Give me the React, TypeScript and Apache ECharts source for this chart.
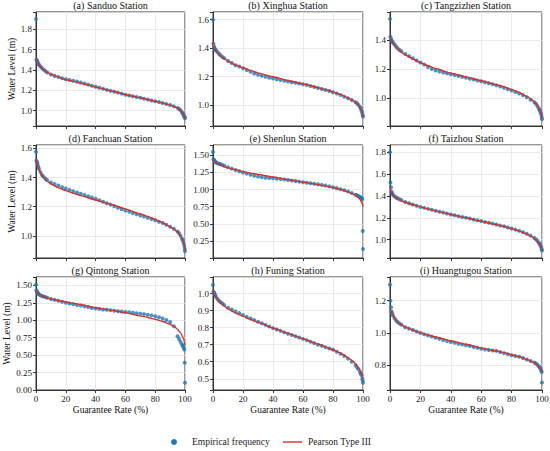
import React, { useEffect, useRef } from "react";
import * as echarts from "echarts";

// Guarantee rate (%) of the plotted empirical points (shared by all stations)
const empRate = [0, 0.3, 0.7, 1, 1.5, 2, 3, 4, 5, 6.25, 7.5, 10, 12.5, 15, 17.5, 20, 22.5, 25, 27.5, 30, 32.5, 35, 37.5, 40, 42.5, 45, 47.5, 50, 52.5, 55, 57.5, 60, 62.5, 65, 67.5, 70, 72.5, 75, 77.5, 80, 82.5, 85, 87.5, 90, 92.5, 95, 96, 97, 98, 98.5, 99, 99.5, 99.8, 100];
// Guarantee rate (%) of the Pearson Type III curve points
const fitRate = [0, 0.5, 1, 2, 3, 5, 7.5, 10, 15, 20, 25, 30, 40, 50, 60, 70, 75, 80, 85, 90, 93, 95, 97, 98, 99, 99.5, 100];

const sanduoEmp = [1.90, 1.50, 1.49, 1.48, 1.465, 1.45, 1.435, 1.42, 1.405, 1.39, 1.375, 1.355, 1.342, 1.332, 1.32, 1.31, 1.302, 1.295, 1.287, 1.278, 1.268, 1.258, 1.245, 1.235, 1.225, 1.215, 1.205, 1.195, 1.187, 1.178, 1.168, 1.158, 1.15, 1.142, 1.135, 1.127, 1.118, 1.11, 1.10, 1.093, 1.085, 1.076, 1.067, 1.057, 1.045, 1.028, 1.018, 1.005, 0.985, 0.972, 0.958, 0.945, 0.935, 0.925];
const xinghuaEmp = [1.60, 1.43, 1.41, 1.40, 1.39, 1.383, 1.372, 1.36, 1.35, 1.338, 1.328, 1.31, 1.295, 1.28, 1.27, 1.258, 1.245, 1.233, 1.222, 1.212, 1.205, 1.198, 1.192, 1.186, 1.18, 1.175, 1.17, 1.165, 1.16, 1.156, 1.151, 1.146, 1.14, 1.133, 1.127, 1.12, 1.113, 1.106, 1.098, 1.09, 1.08, 1.07, 1.058, 1.047, 1.035, 1.02, 1.012, 1.0, 0.985, 0.975, 0.96, 0.945, 0.93, 0.918];
const tangzizhenEmp = [1.543, 1.42, 1.405, 1.395, 1.387, 1.38, 1.367, 1.354, 1.342, 1.33, 1.322, 1.303, 1.288, 1.273, 1.258, 1.245, 1.23, 1.214, 1.20, 1.19, 1.183, 1.176, 1.17, 1.164, 1.158, 1.152, 1.146, 1.14, 1.134, 1.128, 1.122, 1.116, 1.109, 1.102, 1.095, 1.088, 1.08, 1.071, 1.062, 1.053, 1.043, 1.032, 1.02, 1.007, 0.99, 0.972, 0.962, 0.945, 0.928, 0.917, 0.903, 0.888, 0.872, 0.857];
const fanchuanEmp = [1.577, 1.515, 1.505, 1.497, 1.478, 1.46, 1.437, 1.417, 1.405, 1.393, 1.382, 1.366, 1.355, 1.345, 1.334, 1.324, 1.315, 1.306, 1.297, 1.288, 1.28, 1.272, 1.263, 1.254, 1.244, 1.234, 1.224, 1.214, 1.203, 1.193, 1.183, 1.174, 1.165, 1.156, 1.148, 1.14, 1.132, 1.124, 1.116, 1.107, 1.097, 1.088, 1.076, 1.062, 1.048, 1.03, 1.018, 1.0, 0.98, 0.968, 0.95, 0.93, 0.912, 0.895];
const shenlunEmp = [1.548, 1.44, 1.43, 1.42, 1.405, 1.395, 1.385, 1.375, 1.368, 1.36, 1.348, 1.325, 1.305, 1.285, 1.266, 1.25, 1.232, 1.215, 1.20, 1.188, 1.18, 1.173, 1.168, 1.163, 1.158, 1.152, 1.146, 1.14, 1.132, 1.124, 1.115, 1.106, 1.10, 1.092, 1.085, 1.077, 1.068, 1.058, 1.046, 1.034, 1.02, 1.005, 0.99, 0.972, 0.95, 0.925, 0.915, 0.905, 0.89, 0.882, 0.874, 0.86, 0.394, 0.13];
const taizhouEmp = [1.80, 1.523, 1.48, 1.44, 1.425, 1.41, 1.397, 1.386, 1.378, 1.37, 1.362, 1.345, 1.333, 1.322, 1.31, 1.30, 1.291, 1.282, 1.273, 1.264, 1.256, 1.248, 1.239, 1.231, 1.223, 1.215, 1.208, 1.20, 1.193, 1.185, 1.178, 1.17, 1.162, 1.155, 1.147, 1.139, 1.13, 1.122, 1.112, 1.103, 1.092, 1.082, 1.069, 1.054, 1.037, 1.015, 1.003, 0.988, 0.97, 0.96, 0.945, 0.93, 0.912, 0.90];
const qintongEmp = [1.51, 1.43, 1.41, 1.395, 1.382, 1.37, 1.358, 1.348, 1.34, 1.333, 1.324, 1.305, 1.292, 1.28, 1.266, 1.252, 1.241, 1.23, 1.22, 1.21, 1.199, 1.188, 1.177, 1.167, 1.161, 1.155, 1.149, 1.143, 1.137, 1.131, 1.126, 1.12, 1.114, 1.107, 1.101, 1.095, 1.088, 1.08, 1.07, 1.057, 1.042, 1.024, 1.004, 0.976, 0.915, 0.77, 0.73, 0.69, 0.657, 0.635, 0.61, 0.58, 0.39, 0.105];
const funingEmp = [1.05, 1.012, 1.005, 1.0, 0.99, 0.98, 0.968, 0.957, 0.95, 0.942, 0.932, 0.917, 0.906, 0.895, 0.885, 0.874, 0.863, 0.853, 0.844, 0.835, 0.826, 0.816, 0.806, 0.797, 0.789, 0.781, 0.772, 0.764, 0.757, 0.749, 0.742, 0.734, 0.726, 0.717, 0.709, 0.70, 0.693, 0.685, 0.678, 0.67, 0.659, 0.647, 0.633, 0.618, 0.60, 0.58, 0.568, 0.556, 0.54, 0.53, 0.52, 0.50, 0.49, 0.477];
const huangtugouEmp = [1.30, 1.20, 1.16, 1.134, 1.12, 1.107, 1.09, 1.076, 1.067, 1.058, 1.05, 1.035, 1.026, 1.018, 1.008, 0.998, 0.99, 0.983, 0.976, 0.969, 0.962, 0.955, 0.948, 0.942, 0.937, 0.932, 0.927, 0.922, 0.917, 0.911, 0.906, 0.90, 0.896, 0.893, 0.89, 0.887, 0.88, 0.873, 0.866, 0.86, 0.855, 0.85, 0.842, 0.833, 0.824, 0.814, 0.808, 0.80, 0.79, 0.785, 0.777, 0.765, 0.755, 0.69];

const sanduoFit = [1.515, 1.49, 1.475, 1.45, 1.432, 1.405, 1.378, 1.358, 1.33, 1.306, 1.288, 1.27, 1.232, 1.196, 1.16, 1.127, 1.11, 1.093, 1.075, 1.055, 1.04, 1.025, 1.003, 0.985, 0.96, 0.945, 0.92];
const xinghuaFit = [1.44, 1.41, 1.395, 1.378, 1.365, 1.345, 1.325, 1.308, 1.282, 1.262, 1.243, 1.226, 1.198, 1.172, 1.148, 1.122, 1.108, 1.092, 1.074, 1.05, 1.033, 1.018, 0.998, 0.985, 0.962, 0.945, 0.915];
const tangzizhenFit = [1.425, 1.405, 1.392, 1.375, 1.36, 1.338, 1.315, 1.298, 1.268, 1.243, 1.222, 1.203, 1.172, 1.146, 1.12, 1.093, 1.078, 1.06, 1.04, 1.013, 0.993, 0.975, 0.952, 0.935, 0.91, 0.89, 0.86];
const fanchuanFit = [1.52, 1.5, 1.485, 1.455, 1.432, 1.4, 1.375, 1.356, 1.33, 1.31, 1.292, 1.276, 1.246, 1.217, 1.185, 1.15, 1.133, 1.113, 1.09, 1.062, 1.042, 1.026, 1.0, 0.982, 0.955, 0.935, 0.9];
const shenlunFit = [1.445, 1.425, 1.41, 1.39, 1.376, 1.356, 1.334, 1.316, 1.288, 1.262, 1.24, 1.22, 1.182, 1.145, 1.108, 1.07, 1.05, 1.028, 1.002, 0.965, 0.938, 0.912, 0.878, 0.855, 0.82, 0.795, 0.745];
const taizhouFit = [1.485, 1.455, 1.43, 1.405, 1.39, 1.372, 1.355, 1.342, 1.32, 1.3, 1.282, 1.264, 1.231, 1.2, 1.168, 1.137, 1.12, 1.1, 1.078, 1.05, 1.03, 1.012, 0.985, 0.968, 0.945, 0.93, 0.905];
const qintongFit = [1.435, 1.41, 1.395, 1.375, 1.36, 1.34, 1.32, 1.305, 1.282, 1.262, 1.243, 1.225, 1.18, 1.145, 1.105, 1.062, 1.04, 1.014, 0.982, 0.943, 0.905, 0.87, 0.82, 0.78, 0.73, 0.70, 0.643];
const funingFit = [1.02, 1.005, 0.995, 0.978, 0.965, 0.945, 0.926, 0.91, 0.886, 0.866, 0.848, 0.832, 0.798, 0.766, 0.735, 0.703, 0.687, 0.67, 0.65, 0.624, 0.605, 0.588, 0.565, 0.55, 0.53, 0.515, 0.50];
const huangtugouFit = [1.145, 1.14, 1.128, 1.105, 1.09, 1.068, 1.05, 1.037, 1.017, 1.0, 0.986, 0.974, 0.95, 0.928, 0.906, 0.886, 0.876, 0.863, 0.85, 0.834, 0.822, 0.812, 0.797, 0.787, 0.773, 0.765, 0.755];

const stationTitles = ["(a) Sanduo Station", "(b) Xinghua Station", "(c) Tangzizhen Station", "(d) Fanchuan Station", "(e) Shenlun Station", "(f) Taizhou Station", "(g) Qintong Station", "(h) Funing Station", "(i) Huangtugou Station"];
const empSeries = [sanduoEmp, xinghuaEmp, tangzizhenEmp, fanchuanEmp, shenlunEmp, taizhouEmp, qintongEmp, funingEmp, huangtugouEmp];
const fitSeries = [sanduoFit, xinghuaFit, tangzizhenFit, fanchuanFit, shenlunFit, taizhouFit, qintongFit, funingFit, huangtugouFit];
const yMin = [0.85, 0.852, 0.81, 0.848, 0, 0.832, 0, 0.434, 0.643];
const yMax = [1.97, 1.654, 1.59, 1.623, 1.65, 1.867, 1.62, 1.097, 1.348];
const yStep = [0.2, 0.2, 0.2, 0.2, 0.25, 0.2, 0.25, 0.1, 0.2];
const yDecimals = [1, 1, 1, 1, 2, 1, 2, 1, 1];
const yHideZero = [false, false, false, false, true, false, false, false, false];
const xTicks = { min: 0, max: 100, interval: 20 };

const EMP_NAME = "Empirical frequency";
const FIT_NAME = "Pearson Type III";
const X_NAME = "Guarantee Rate (%)";
const Y_NAME = "Water Level (m)";

// layout
const colLeft = [36, 213, 390];
const colWidth = [149, 150, 152];
const rowTop = [12, 145, 277];
const rowHeight = [114, 113, 113];

export default function App() {
  const ref = useRef<HTMLDivElement>(null);
  useEffect(() => {
    document.body.style.margin = "0";
    const chart = echarts.init(ref.current as HTMLDivElement, null, { renderer: "svg" });
    const font = "Liberation Serif";
    const blue = "#1f77b4";
    const red = "#d6302a";
    const frame = "#333333";
    const gridColor = "#e4e4e4";
    const grids: any[] = [];
    const xAxes: any[] = [];
    const yAxes: any[] = [];
    const series: any[] = [];
    const titles: any[] = [];
    for (let i = 0; i < 9; i++) {
      const r = Math.floor(i / 3);
      const c = i % 3;
      grids.push({
        left: colLeft[c], top: rowTop[r], width: colWidth[c], height: rowHeight[r],
        show: true, borderColor: frame, borderWidth: 1, containLabel: false, outerBoundsMode: "none",
      });
      titles.push({
        text: stationTitles[i], left: colLeft[c] + colWidth[c] / 2, top: rowTop[r] - 12, textAlign: "center", padding: 0,
        textStyle: { fontFamily: font, fontSize: 10, fontWeight: "normal", color: "#111" },
      });
      const bottom = r === 2;
      xAxes.push({
        type: "value", gridIndex: i, min: xTicks.min, max: xTicks.max, interval: xTicks.interval,
        axisLine: { show: true, onZero: false, lineStyle: { color: frame, width: 1 } },
        axisTick: { show: true, inside: false, length: 3, lineStyle: { color: frame } },
        axisLabel: { show: bottom, fontFamily: font, fontSize: 9, color: "#222", margin: 4 },
        splitLine: { show: true, lineStyle: { color: gridColor, width: 0.8 } },
        name: bottom ? X_NAME : "", nameLocation: "middle", nameGap: 15,
        nameTextStyle: { fontFamily: font, fontSize: 9.5, color: "#111" },
      });
      const step = yStep[i];
      const dec = yDecimals[i];
      const hideZero = yHideZero[i];
      yAxes.push({
        type: "value", gridIndex: i, min: yMin[i], max: yMax[i], minInterval: step, maxInterval: step, splitNumber: 5,
        axisLine: { show: true, onZero: false, lineStyle: { color: frame, width: 1 } },
        axisTick: { show: true, inside: false, length: 3, lineStyle: { color: frame } },
        axisLabel: {
          fontFamily: font, fontSize: 9, color: "#222", margin: 4,
          formatter: (v: number) => {
            const k = v / step;
            if (Math.abs(k - Math.round(k)) > 1e-6) return "";
            if (hideZero && Math.abs(v) < 1e-9) return "";
            return v.toFixed(dec);
          },
        },
        splitLine: { show: true, lineStyle: { color: gridColor, width: 0.8 } },
        name: c === 0 ? Y_NAME : "", nameLocation: "middle", nameGap: 19,
        nameTextStyle: { fontFamily: font, fontSize: 9.5, color: "#111" },
      });
      series.push({
        type: "scatter", name: EMP_NAME, xAxisIndex: i, yAxisIndex: i,
        data: empRate.map((x, j) => [x, empSeries[i][j]]),
        symbol: "circle", symbolSize: 4, itemStyle: { color: blue }, z: 2, silent: true,
      });
      series.push({
        type: "line", name: FIT_NAME, xAxisIndex: i, yAxisIndex: i,
        data: fitRate.map((x, j) => [x, fitSeries[i][j]]),
        symbol: "none", showSymbol: false, smooth: 0.15, smoothMonotone: "x",
        lineStyle: { color: red, width: 1.4 }, itemStyle: { color: red }, z: 3, silent: true,
      });
    }
    chart.setOption({
      animation: false,
      backgroundColor: "#ffffff",
      title: titles,
      grid: grids,
      xAxis: xAxes,
      yAxis: yAxes,
      series,
      graphic: [
        { type: "circle", shape: { cx: 174, cy: 442, r: 3 }, style: { fill: blue } },
        { type: "text", x: 192, y: 442, style: { text: EMP_NAME, fontFamily: font, fontSize: 9.5, fill: "#222", verticalAlign: "middle" } },
        { type: "line", shape: { x1: 283, y1: 442, x2: 302, y2: 442 }, style: { stroke: red, lineWidth: 1.4 } },
        { type: "text", x: 308, y: 442, style: { text: FIT_NAME, fontFamily: font, fontSize: 9.5, fill: "#222", verticalAlign: "middle" } },
      ],
    });
    return () => chart.dispose();
  }, []);
  return <div ref={ref} style={{ width: 550, height: 451 }} />;
}
